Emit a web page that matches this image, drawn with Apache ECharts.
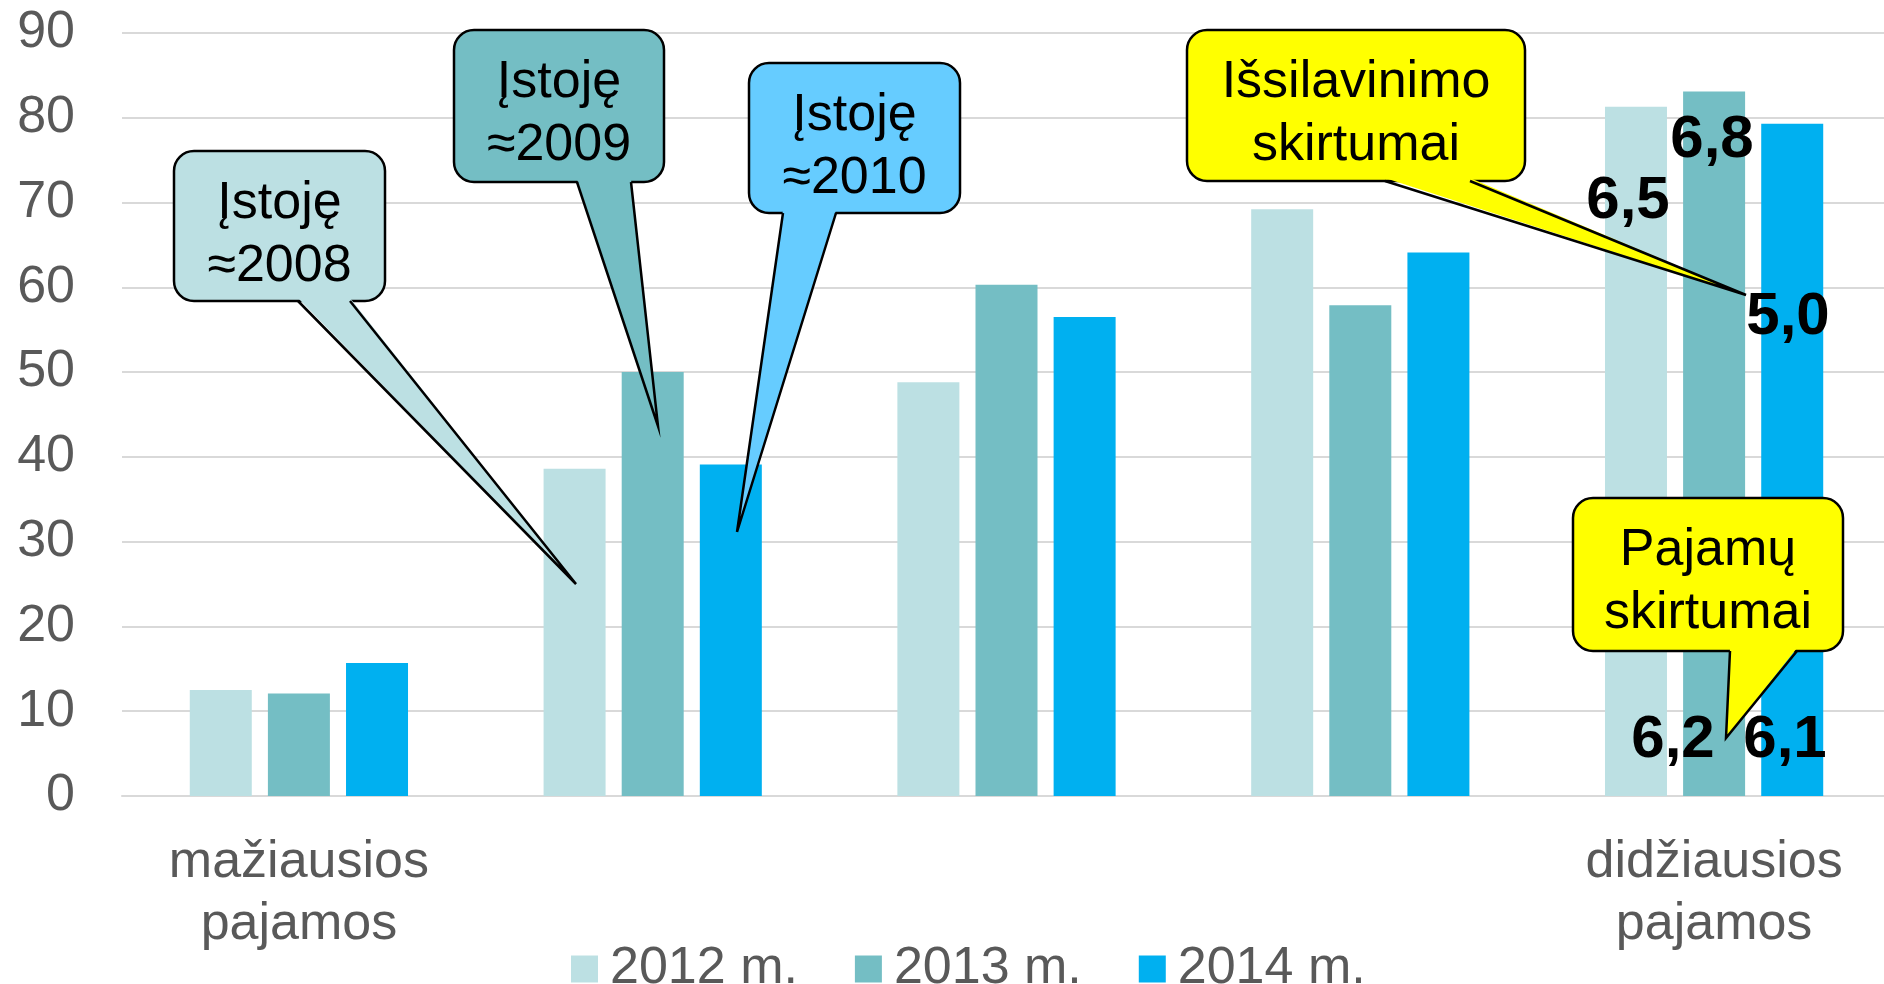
<!DOCTYPE html>
<html>
<head>
<meta charset="utf-8">
<script src="https://cdn.jsdelivr.net/npm/echarts@6/dist/echarts.min.js"></script>
<style>
  html, body { margin: 0; padding: 0; background: #fff; overflow: hidden; }
  /* plot area runs a few px past the right edge, as in the original */
  #chart { width: 1891px; height: 984px; }
</style>
</head>
<body>
<div id="chart"></div>
<script>
// duomenys
const categories = ['mažiausios\npajamos', '', '', '', 'didžiausios\npajamos'];
const seriesNames = ['2012 m.', '2013 m.', '2014 m.'];
const values2012 = [12.5, 38.6, 48.8, 69.2, 81.3];
const values2013 = [12.1, 50.0, 60.3, 57.9, 83.1];
const values2014 = [15.7, 39.1, 56.5, 64.1, 79.3];
const yMin = 0, yMax = 90, yStep = 10;

const calloutTexts = ['Įstoję\n≈2008', 'Įstoję\n≈2009', 'Įstoję\n≈2010', 'Išsilavinimo\nskirtumai', 'Pajamų\nskirtumai'];
const gapLabels = ['6,5', '6,8', '5,0', '6,2', '6,1'];

const colors = ['#BCE0E3', '#74BEC4', '#00B0F0'];
const FONT = "'Liberation Sans', Arial, sans-serif";

// išdėstymas (pikseliais)
const calloutBoxes = [
    { x: 174, y: 151, w: 211, h: 150, b1: 298, b2: 350, tip: [576, 584], ty: 235, fill: '#BCE0E3' },
    { x: 454, y: 30, w: 210, h: 152, b1: 577, b2: 631, tip: [658, 426], ty: 114, fill: '#74BEC4' },
    { x: 749, y: 63, w: 211, h: 150, b1: 783, b2: 836, tip: [737, 532], ty: 147, fill: '#66CCFF' },
    { x: 1187, y: 30, w: 338, h: 151, b1: 1385, b2: 1470, tip: [1746, 295], ty: 114, fill: '#FFFF00' },
    { x: 1573, y: 498, w: 270, h: 153, b1: 1730, b2: 1797, tip: [1726, 738], ty: 582, fill: '#FFFF00' }
];
const gapLabelPos = [[1628, 201], [1712, 140], [1788, 317], [1673, 740], [1785, 740]];

function buildCallout(c, text) {
    const bottom = c.y + c.h;
    return [
        {
            type: 'rect', z: 10,
            shape: { x: c.x, y: c.y, width: c.w, height: c.h, r: 20 },
            style: { fill: c.fill, stroke: '#000', lineWidth: 2.5 }
        },
        {
            type: 'polygon', z: 11,
            shape: { points: [[c.b1, bottom - 3], c.tip, [c.b2, bottom - 3]] },
            style: { fill: c.fill }
        },
        {
            type: 'polyline', z: 12,
            shape: { points: [[c.b1, bottom], c.tip, [c.b2, bottom]] },
            style: { stroke: '#000', lineWidth: 2.5, fill: null }
        },
        {
            type: 'text', z: 13,
            x: c.x + c.w / 2, y: c.ty,
            style: {
                text: text, fill: '#000', font: '52px ' + FONT,
                align: 'center', verticalAlign: 'middle', lineHeight: 63
            }
        }
    ];
}

const graphics = [];
calloutBoxes.forEach((c, i) => graphics.push(...buildCallout(c, calloutTexts[i])));
gapLabels.forEach((t, i) => {
    graphics.push({
        type: 'text', z: 20,
        x: gapLabelPos[i][0], y: gapLabelPos[i][1],
        style: { text: t, fill: '#000', font: 'bold 60px ' + FONT, align: 'center', verticalAlign: 'middle' }
    });
});

const chart = echarts.init(document.getElementById('chart'), null, { renderer: 'canvas' });

const option = {
    animation: false,
    color: colors,
    textStyle: { fontFamily: FONT },
    grid: { left: 122, right: 0, top: 33, bottom: 188 },
    legend: {
        data: seriesNames,
        left: 566,
        top: 938,
        icon: 'rect',
        itemWidth: 27,
        itemHeight: 27,
        itemGap: 57,
        textStyle: { fontSize: 52, color: '#595959', fontFamily: FONT, padding: [0, 0, 0, 7] }
    },
    xAxis: {
        type: 'category',
        data: categories,
        axisTick: { show: false },
        axisLine: { lineStyle: { color: '#D9D9D9', width: 2 } },
        axisLabel: {
            interval: 0, fontSize: 52, color: '#595959', lineHeight: 62, margin: 36, fontFamily: FONT
        }
    },
    yAxis: {
        type: 'value',
        min: yMin, max: yMax, interval: yStep,
        axisLine: { show: false },
        axisTick: { show: false },
        splitLine: { lineStyle: { color: '#D9D9D9', width: 2 } },
        axisLabel: { fontSize: 52, color: '#595959', margin: 47, fontFamily: FONT }
    },
    series: [
        { name: seriesNames[0], type: 'bar', data: values2012, barWidth: 62, barGap: '26%' },
        { name: seriesNames[1], type: 'bar', data: values2013, barWidth: 62, barGap: '26%' },
        { name: seriesNames[2], type: 'bar', data: values2014, barWidth: 62, barGap: '26%' }
    ],
    graphic: graphics
};

chart.setOption(option);
</script>
</body>
</html>
